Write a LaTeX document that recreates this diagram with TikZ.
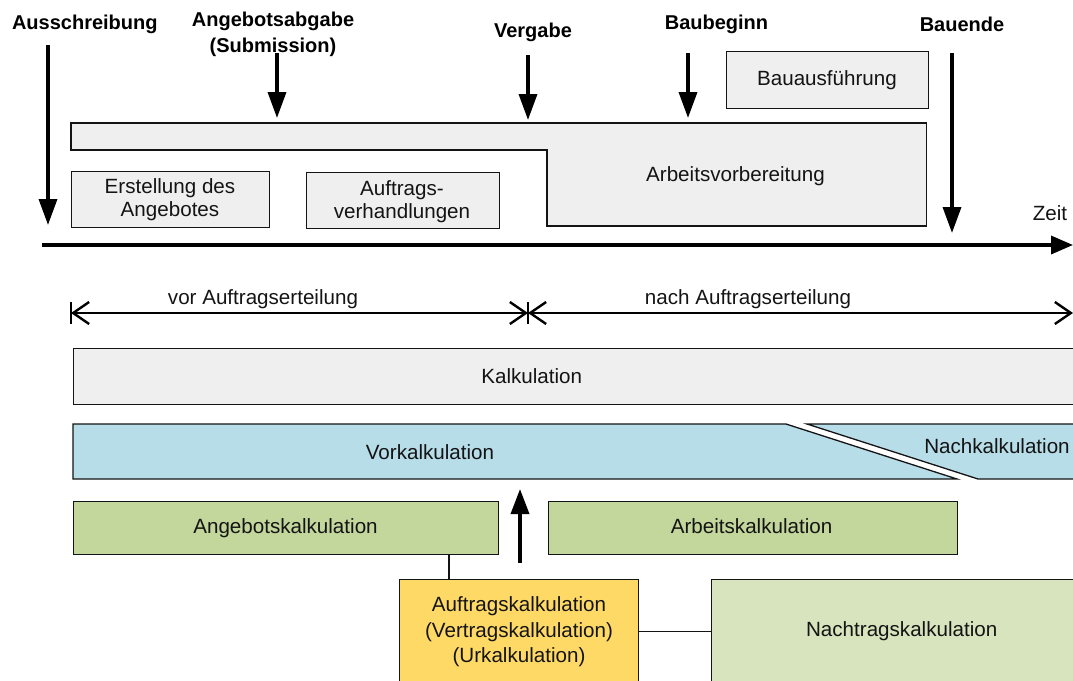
\documentclass[tikz,border=0pt]{standalone}
\usepackage{fontspec}
\setmainfont{Liberation Sans}
\usetikzlibrary{arrows.meta}

\definecolor{panelgray}{HTML}{EFEFEF}
\definecolor{phaseblue}{HTML}{B7DDE8}
\definecolor{calcgreen}{HTML}{C3D69B}
\definecolor{addgreen}{HTML}{D7E4BD}
\definecolor{contractyellow}{HTML}{FFD966}
\definecolor{ink}{HTML}{141414}

\begin{document}
\begin{tikzpicture}[x=1pt,y=-1pt,
  outline/.style={draw=ink, line width=1.3pt},
  panel/.style={outline, fill=panelgray, inner sep=0pt, anchor=north west},
  txt/.style={font=\fontsize{20.6}{23.5}\selectfont, text=ink, anchor=base, inner sep=0pt, align=center},
  milestone/.style={font=\fontsize{20}{25.7}\selectfont\bfseries, text=black, anchor=base, inner sep=0pt, align=center},
  bigarrow/.style={line width=3.5pt, -{Triangle[length=26pt,width=18pt]}},
  barb/.tip={Straight Barb[length=16pt,width=22pt,line width=2.4pt]},
  dimline/.style={line width=1.3pt, {barb}-{barb}},
  link/.style={draw=ink, line width=1.3pt},
]
\clip (0,0) rectangle (1073,680);

% ---------- milestones on the time line ----------
% (multi-line texts are placed by the baseline of their last line)
\node[milestone] (ausschr) at (84.8,29.5) {Ausschreibung};
\node[milestone] (abgabe) at (273,52.2) {Angebotsabgabe\\(Submission)};
\node[milestone] (vergabe) at (533,37) {Vergabe};
\node[milestone] (baubeg) at (716.5,29.5) {Baubeginn};
\node[milestone] (bauende) at (962,31) {Bauende};

\coordinate (a1s) at (48,45);   \coordinate (a1e) at (48,225);
\coordinate (a2s) at (277,53);  \coordinate (a2e) at (277,118);
\coordinate (a3s) at (528,55);  \coordinate (a3e) at (528,120);
\coordinate (a4s) at (688,53);  \coordinate (a4e) at (688,118);
\coordinate (a5s) at (952,53);  \coordinate (a5e) at (952,233);
\draw[bigarrow] (a1s) -- (a1e);
\draw[bigarrow] (a2s) -- (a2e);
\draw[bigarrow] (a3s) -- (a3e);
\draw[bigarrow] (a4s) -- (a4e);
\draw[bigarrow] (a5s) -- (a5e);

% ---------- activities ----------
\node[panel, minimum width=202pt, minimum height=57pt] (bauaus) at (726,51) {};
\node[txt] (bauaustxt) at (827,85.5) {Bauausführung};

\draw[outline, fill=panelgray]
  (71,123) -- (926.5,123) -- (926.5,226) -- (547,226) -- (547,150) -- (71,150) -- cycle;
\node[txt] (avtxt) at (735.5,181.5) {Arbeitsvorbereitung};

\node[panel, minimum width=198pt, minimum height=56pt] (erst) at (71,171) {};
\node[txt] (ersttxt) at (170,216.8) {Erstellung des\\Angebotes};

\node[panel, minimum width=193pt, minimum height=56pt] (verh) at (306,172) {};
\node[txt] (verhtxt) at (402,218.5) {Auftrags-\\verhandlungen};

% ---------- time axis ----------
\coordinate (t0) at (42,245);
\coordinate (t1) at (1073,245);
\draw[line width=3.5pt, -{Triangle[length=22pt,width=18pt]}] (t0) -- (t1);
\node[txt] (zeit) at (1050,220) {Zeit};

% ---------- before / after award ----------
\coordinate (dL) at (71,313);
\coordinate (dM) at (528,313);
\coordinate (dR) at (1073,313);
\draw[dimline] (dL) -- (dM);
\draw[dimline] (dM) -- (dR);
\draw[line width=1.6pt] ([yshift=11pt]dL) -- ([yshift=-11pt]dL);
\draw[line width=1.6pt] ([yshift=11pt]dM) -- ([yshift=-11pt]dM);
\node[txt] (vor) at (263,304) {vor Auftragserteilung};
\node[txt] (nach) at (748,304) {nach Auftragserteilung};

% ---------- calculation levels ----------
\node[panel, minimum width=1020pt, minimum height=56pt] (kalk) at (73,348) {};
\node[txt] (kalktxt) at (531.7,383.3) {Kalkulation};

\draw[outline, fill=phaseblue] (73,424) -- (786,424) -- (957,479) -- (73,479) -- cycle;
\node[txt] (vorktxt) at (430,459) {Vorkalkulation};
\draw[outline, fill=phaseblue] (807,424) -- (1090,424) -- (1090,479) -- (978,479) -- cycle;
\node[txt] (nachktxt) at (997,453) {Nachkalkulation};

\node[panel, fill=calcgreen, minimum width=425pt, minimum height=53pt] (angk) at (73,501) {};
\node[txt] (angktxt) at (285.5,533) {Angebotskalkulation};

\node[panel, fill=calcgreen, minimum width=409pt, minimum height=53pt] (arbk) at (548,501) {};
\node[txt] (arbktxt) at (751.6,533) {Arbeitskalkulation};

\coordinate (upS) at (520,563);
\coordinate (upE) at (520,489);
\draw[line width=3.5pt, -{Triangle[length=25pt,width=18pt]}] (upS) -- (upE);

\node[panel, fill=contractyellow, minimum width=239pt, minimum height=104pt] (auftr) at (399,579) {};
\node[txt, font=\fontsize{20.6}{25.5}\selectfont] (auftrtxt) at (519,662.5)
  {Auftragskalkulation\\(Vertragskalkulation)\\(Urkalkulation)};

\node[panel, fill=addgreen, minimum width=380pt, minimum height=104pt] (nachtr) at (711,579) {};
\node[txt] (nachtrtxt) at (901.7,636.7) {Nachtragskalkulation};

% ---------- links ----------
\coordinate (lx) at (449,0);
\draw[link] (lx |- angk.south) -- (lx |- auftr.north);
\draw[link] (auftr.east) -- (nachtr.west);
\end{tikzpicture}
\end{document}
